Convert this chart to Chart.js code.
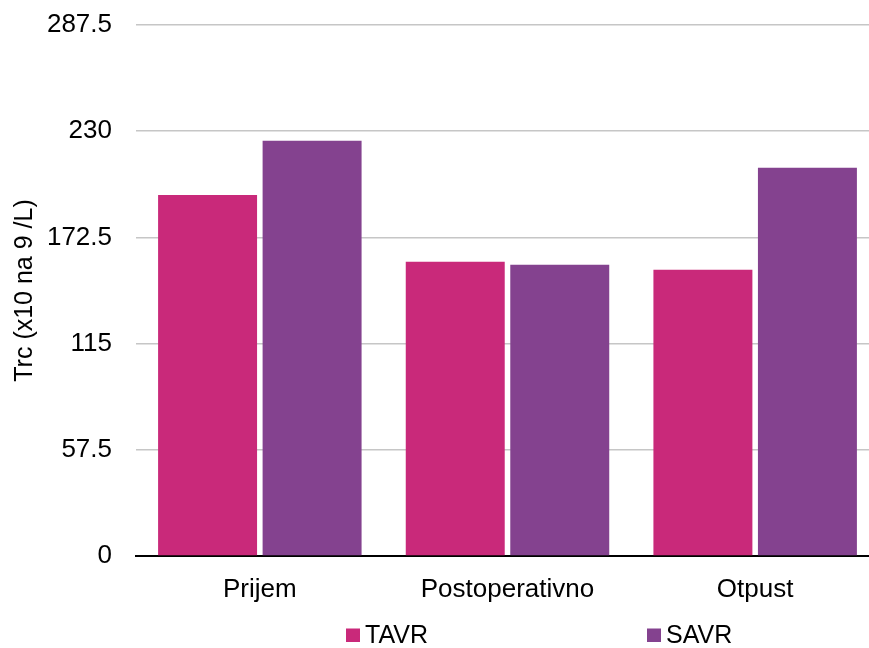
<!DOCTYPE html>
<html>
<head>
<meta charset="utf-8">
<script src="https://cdn.jsdelivr.net/npm/chart.js@4.4.1/dist/chart.umd.min.js"></script>
<style>
  html, body { margin: 0; padding: 0; background: #fff; overflow: hidden; }
  #wrap { width: 879px; height: 648px; position: relative; }
</style>
</head>
<body>
<div id="wrap"><canvas id="trcChart"></canvas></div>
<script>
// Data
const categories = ["Prijem", "Postoperativno", "Otpust"];
const tavrValues = [195.4, 159.3, 155.0];
const savrValues = [224.8, 157.7, 210.2];
const yTickValues = [0, 57.5, 115, 172.5, 230, 287.5];
const yTickLabels = ["0", "57.5", "115", "172.5", "230", "287.5"];
const seriesNames = ["TAVR", "SAVR"];
const seriesColors = ["#c9297a", "#84428f"];

const FONT = "'Liberation Sans', Arial, sans-serif";

// Simple legend drawn under the axis, like the original
const legendX = [346, 647];
const bottomLegend = {
    id: "bottomLegend",
    afterDraw(chart) {
        const c = chart.ctx;
        c.save();
        c.font = "25px " + FONT;
        c.textBaseline = "middle";
        c.textAlign = "left";
        chart.data.datasets.forEach((ds, i) => {
            c.fillStyle = ds.backgroundColor;
            c.fillRect(legendX[i], 628.5, 14, 13.5);
            c.fillStyle = "#000";
            c.fillText(ds.label, legendX[i] + 19, 636);
        });
        c.restore();
    }
};

const ctx = document.getElementById("trcChart").getContext("2d");
new Chart(ctx, {
    type: "bar",
    data: {
        labels: categories,
        datasets: [
            {
                label: seriesNames[0],
                data: tavrValues,
                backgroundColor: seriesColors[0],
                categoryPercentage: 0.844,
                barPercentage: 0.947,
            },
            {
                label: seriesNames[1],
                data: savrValues,
                backgroundColor: seriesColors[1],
                categoryPercentage: 0.844,
                barPercentage: 0.947,
            },
        ],
    },
    options: {
        responsive: true,
        maintainAspectRatio: false,
        animation: false,
        layout: { padding: { top: 25, right: 0, bottom: 0, left: 0 } },
        plugins: {
            legend: { display: false },
            tooltip: { enabled: false },
        },
        scales: {
            x: {
                grid: { display: false, drawTicks: false },
                border: { display: true, color: "#000", width: 2 },
                ticks: {
                    color: "#000",
                    font: { family: FONT, size: 26 },
                    padding: 18,
                    maxRotation: 0,
                },
                afterFit(scale) { scale.height = 92; },
            },
            y: {
                min: 0,
                max: 287.5,
                afterBuildTicks(scale) {
                    scale.ticks = yTickValues.map(v => ({ value: v }));
                },
                afterFit(scale) {
                    scale.width = 136;
                    scale.paddingTop = 0;
                    scale.paddingBottom = 0;
                },
                grid: {
                    drawTicks: false,
                    color: (c) => c.tick && c.tick.value === 0 ? "rgba(0,0,0,0)" : "#c6c6c6",
                    lineWidth: 1.5,
                },
                border: { display: false },
                ticks: {
                    color: "#000",
                    font: { family: FONT, size: 26 },
                    padding: 24,
                    callback: (v) => yTickLabels[yTickValues.indexOf(v)],
                },
                title: {
                    display: true,
                    text: "Trc (x10 na 9 /L)",
                    color: "#000",
                    font: { family: FONT, size: 25 },
                    padding: { top: 10, bottom: 0 },
                },
            },
        },
    },
    plugins: [bottomLegend],
});
</script>
</body>
</html>
